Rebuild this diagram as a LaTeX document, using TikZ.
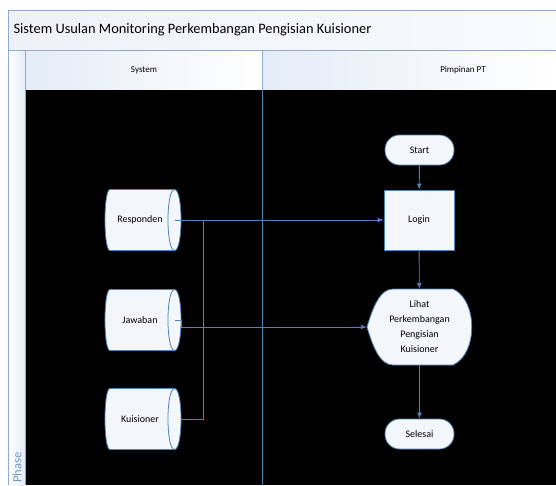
\documentclass[tikz,border=0pt]{standalone}
\usepackage{fontspec}
\setmainfont{Carlito}
\usetikzlibrary{arrows.meta}
\definecolor{laneline}{RGB}{140,170,210}
\definecolor{phasetext}{RGB}{120,150,195}
\definecolor{flowblue}{RGB}{79,129,189}
\definecolor{titlefill}{RGB}{238,242,248}
\definecolor{cellblue}{RGB}{228,236,247}
\definecolor{shapefill}{RGB}{243,246,251}
\tikzset{
  flow/.style={draw=flowblue,line width=0.9pt,-{Latex[length=6pt,width=5pt]}},
  link/.style={draw=flowblue,line width=0.9pt},
  shapeline/.style={draw=flowblue,line width=0.8pt},
  store/.style={minimum width=76pt,minimum height=61pt,inner sep=0pt,font=\fontsize{10}{12}\selectfont},
  terminal/.style={shapeline,fill=shapefill,rounded corners=14.5pt,
    minimum width=69pt,minimum height=30pt,inner sep=0pt,font=\fontsize{10}{12}\selectfont},
  process/.style={shapeline,fill=shapefill,
    minimum width=70pt,minimum height=60pt,inner sep=0pt,font=\fontsize{10}{12}\selectfont},
  lanehead/.style={font=\fontsize{9}{11}\selectfont}
}
% storage outline centred at (#1,#2), 76 x 61
\newcommand{\storeshape}[2]{%
  \fill[fill=shapefill,shapeline] (#1-33,#2-30.5) -- (#1+31.5,#2-30.5)
    .. controls (#1+40.2,#2-30.5) and (#1+40.2,#2+30.5) .. (#1+31.5,#2+30.5)
    -- (#1-33,#2+30.5) .. controls (#1-39.7,#2+30.5) and (#1-39.7,#2-30.5) .. cycle;
  \draw[shapeline] (#1+31.5,#2-30.5) .. controls (#1+22.8,#2-30.5) and (#1+22.8,#2+30.5) .. (#1+31.5,#2+30.5);
}
\begin{document}
\begin{tikzpicture}[x=1pt,y=-1pt]
\useasboundingbox (0,0) rectangle (556,485);
\fill[white] (0,0) rectangle (556,485);
% pool frame
\shade[left color=titlefill,right color=white!60!titlefill] (8,10) rectangle (556,50);
\shade[left color=white,right color=cellblue] (8,50) rectangle (25,485);
\shade[left color=cellblue,right color=white] (25,50) rectangle (262,90);
\shade[left color=cellblue,right color=white] (262,50) rectangle (556,90);
\fill[black] (25,90) rectangle (556,485);
\draw[laneline,line width=0.8pt] (556,10) -- (8,10) -- (8,485);
\draw[laneline,line width=0.8pt] (8,50) -- (556,50);
\draw[laneline,line width=0.8pt] (25,50) -- (25,485);
\draw[laneline,line width=0.8pt] (262,50) -- (262,90);
\draw[flowblue,line width=0.8pt] (262,90) -- (262,485);
\node[anchor=west,font=\fontsize{14.4}{17}\selectfont] (title) at (10,30) {Sistem Usulan Monitoring Perkembangan Pengisian Kuisioner};
\node[lanehead] (lsys) at (144,70) {System};
\node[lanehead] (lpim) at (463,70) {Pimpinan PT};
\node[rotate=90,anchor=west,inner sep=0pt,text=phasetext,font=\fontsize{12.5}{14}\selectfont] (phase) at (17,483) {Phase};
% data stores
\storeshape{143}{220}
\storeshape{143}{320}
\storeshape{143}{419}
\node[store] (resp) at (140,220) {Responden};
\node[store] (jaw) at (140,320) {Jawaban};
\node[store] (kuis) at (140,419) {Kuisioner};
% flow
\node[terminal] (start) at (419.5,150) {Start};
\node[process] (login) at (419,220) {Login};
\fill[fill=shapefill,shapeline] (367,327) .. controls (373,307) and (380,289) .. (393,289)
  -- (453,289) .. controls (478,300) and (478,354) .. (453,365)
  -- (393,365) .. controls (380,365) and (373,347) .. cycle;
\node[align=center,font=\fontsize{10}{15}\selectfont,minimum width=105pt,minimum height=76pt,inner sep=0pt] (lihat) at (419.5,327) {Lihat\\Perkembangan\\Pengisian\\Kuisioner};
\node[terminal] (selesai) at (419.5,434) {Selesai};
\coordinate (jx) at (203,220);
\draw[flow] ([xshift=-3.5pt]resp.east) -- (login);
\draw[flow] ([xshift=-3.5pt]jaw.east) -- ([xshift=3pt]jaw.east) |- (lihat.west);
\draw[link] ([xshift=3pt]kuis.east) -| (jx);
\draw[flow] (start) -- (login);
\draw[flow] (login) -- (lihat);
\draw[flow] (lihat) -- (selesai);
\end{tikzpicture}
\end{document}
